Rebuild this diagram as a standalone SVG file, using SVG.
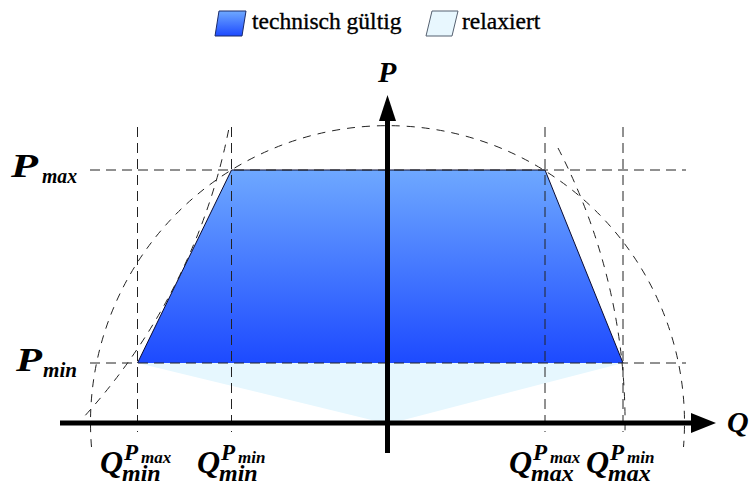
<svg xmlns="http://www.w3.org/2000/svg" width="753" height="486" viewBox="0 0 753 486">
<defs>
<linearGradient id="gTech" gradientUnits="userSpaceOnUse" x1="0" y1="170" x2="0" y2="363">
<stop offset="0" stop-color="#6ea8ff"/>
<stop offset="1" stop-color="#1d4aff"/>
</linearGradient>
<linearGradient id="gLeg" x1="0" y1="0" x2="0" y2="1">
<stop offset="0" stop-color="#6ea8ff"/>
<stop offset="1" stop-color="#1d4aff"/>
</linearGradient>
<style>
.dash{fill:none;stroke:#222;stroke-width:1;stroke-dasharray:10 6}
.arc{fill:none;stroke:#222;stroke-width:1;stroke-dasharray:8 7}
.axis{stroke:#000;stroke-width:5;fill:none}
.math{font-family:"Liberation Serif","Times New Roman",serif;font-style:italic;font-weight:bold;fill:#000}
.leg{font-family:"Liberation Serif","Times New Roman",serif;font-size:23.5px;fill:#000;stroke:#000;stroke-width:0.35}
</style>
</defs>
<rect width="753" height="486" fill="#fff"/>

<g id="legend">
<g id="legend-tech">
<polygon points="219,11 246,11 242,36 215,36" fill="url(#gLeg)" stroke="#1a2a6a" stroke-width="1"/>
<text class="leg" x="252" y="29">technisch gültig</text>
</g>
<g id="legend-relax">
<polygon points="432,11 458,11 452,36 426,36" fill="#e8f7fe" stroke="#556070" stroke-width="1"/>
<text class="leg" x="462" y="29">relaxiert</text>
</g>
</g>

<g id="regions">
<polygon id="relaxed" points="137.5,363 623,363 388,424" fill="#e6f7fe"/>
<polygon id="technical" points="231.5,170 545,170 623,363 137.5,363" fill="url(#gTech)"/>
<polyline points="137.5,363 231.5,170 545,170 623,363" fill="none" stroke="#0a0a30" stroke-width="1"/>
</g>

<g id="connectors">
<line class="dash" x1="90" y1="170" x2="686" y2="170"/>
<line class="dash" x1="90" y1="363" x2="686" y2="363"/>
<line class="dash" x1="137.5" y1="127" x2="137.5" y2="432"/>
<line class="dash" x1="231.5" y1="127" x2="231.5" y2="432"/>
<line class="dash" x1="545" y1="127" x2="545" y2="432"/>
<line class="dash" x1="623" y1="127" x2="623" y2="432"/>
<path class="arc" d="M91.5,447 A297,297 0 1,1 683.5,447"/>
<path class="arc" d="M228.6,130 A600,600 0 0,1 82,419"/>
<path class="arc" d="M558,148 A597,597 0 0,1 625,432"/>
<line class="axis" x1="60" y1="423" x2="692" y2="423"/>
<polygon points="691,413 716,423 691,433" fill="#000"/>
<line class="axis" x1="387.5" y1="453" x2="387.5" y2="119"/>
<polygon points="379,121 387.5,95 396,121" fill="#000"/>
</g>

<g id="labels">
<text class="math" x="378" y="82" font-size="30">P</text>
<text class="math" x="727" y="432" font-size="30">Q</text>
<text id="label-pmax" class="math" x="11" y="177" font-size="33"><tspan textLength="27" lengthAdjust="spacingAndGlyphs">P</tspan><tspan x="42" y="183" font-size="21" textLength="35" lengthAdjust="spacingAndGlyphs">max</tspan></text>
<text id="label-pmin" class="math" x="16" y="371" font-size="33"><tspan textLength="26" lengthAdjust="spacingAndGlyphs">P</tspan><tspan x="43" y="377" font-size="21" textLength="34" lengthAdjust="spacingAndGlyphs">min</tspan></text>
<text id="label-qmin-pmax" class="math" x="100" y="473" font-size="32">Q<tspan x="122" y="481" font-size="24">min</tspan><tspan x="124" y="460" font-size="23">P</tspan><tspan x="141" y="463" font-size="17">max</tspan></text>
<text id="label-qmin-pmin" class="math" x="197" y="473" font-size="32">Q<tspan x="219" y="481" font-size="24">min</tspan><tspan x="221" y="460" font-size="23">P</tspan><tspan x="238" y="463" font-size="17">min</tspan></text>
<text id="label-qmax-pmax" class="math" x="509" y="473" font-size="32">Q<tspan x="531" y="481" font-size="24">max</tspan><tspan x="533" y="460" font-size="23">P</tspan><tspan x="550" y="463" font-size="17">max</tspan></text>
<text id="label-qmax-pmin" class="math" x="586" y="473" font-size="32">Q<tspan x="608" y="481" font-size="24">max</tspan><tspan x="610" y="460" font-size="23">P</tspan><tspan x="627" y="463" font-size="17">min</tspan></text>
</g>
</svg>
